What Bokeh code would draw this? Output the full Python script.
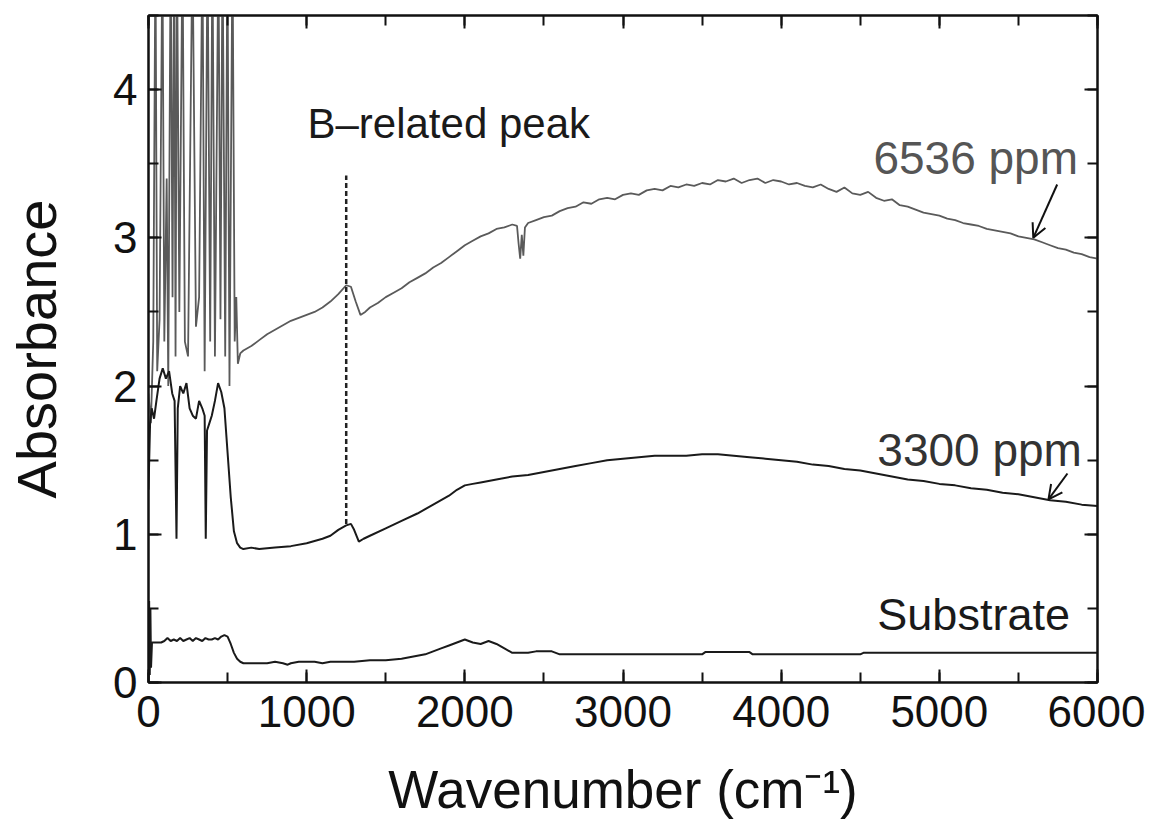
from bokeh.plotting import figure
from bokeh.models import (Range1d, LinearAxis, SingleIntervalTicker, Label, Arrow,
                          OpenHead, CustomJSTickFormatter)
from bokeh.embed import file_html
from bokeh.resources import INLINE

# ---------------- data ----------------
x_ticks_interval = 1000
y_ticks_interval = 1

# Substrate
sub_x = [0, 4, 8, 12, 16, 22, 40, 60, 80, 100,
         120, 140, 160, 180, 200, 220, 240, 260, 280, 300,
         320, 340, 360, 380, 400, 420, 440, 460, 480, 500,
         520, 540, 560, 580, 600, 650, 700, 750, 800, 850,
         880, 900, 950, 1000, 1050, 1100, 1150, 1200, 1250, 1300,
         1400, 1500, 1600, 1650, 1700, 1750, 1800, 1850, 1900, 1950,
         2000, 2050, 2100, 2150, 2200, 2250, 2300, 2350, 2400, 2450,
         2500, 2550, 2600, 2650, 2700, 3000, 3500, 3520, 3800, 3820,
         4000, 4500, 4520, 5000, 5500, 6000]
sub_y = [0.00, 0.55, 0.05, 0.50, 0.10, 0.27, 0.27, 0.27, 0.27, 0.28,
         0.30, 0.28, 0.29, 0.28, 0.30, 0.28, 0.29, 0.30, 0.28, 0.30,
         0.29, 0.28, 0.30, 0.29, 0.29, 0.30, 0.29, 0.31, 0.32, 0.31,
         0.26, 0.20, 0.16, 0.14, 0.13, 0.13, 0.13, 0.13, 0.14, 0.13,
         0.12, 0.13, 0.14, 0.14, 0.14, 0.13, 0.14, 0.14, 0.14, 0.14,
         0.15, 0.15, 0.16, 0.17, 0.18, 0.19, 0.21, 0.23, 0.25, 0.27,
         0.29, 0.27, 0.26, 0.28, 0.26, 0.23, 0.20, 0.20, 0.20, 0.21,
         0.21, 0.21, 0.19, 0.19, 0.19, 0.19, 0.19, 0.205, 0.205, 0.19,
         0.19, 0.19, 0.20, 0.20, 0.20, 0.20]

# 3300 ppm
b33_x = [0, 10, 20, 35, 50, 70, 90, 110, 130, 150,
         165, 177, 185, 200, 220, 240, 260, 280, 300, 320,
         340, 355, 362, 370, 385, 400, 420, 440, 460, 480,
         500, 520, 540, 560, 580, 600, 650, 700, 800, 900,
         1000, 1100, 1150, 1200, 1250, 1280, 1300, 1330, 1360, 1400,
         1500, 1600, 1700, 1800, 1900, 1950, 2000, 2050, 2100, 2200,
         2300, 2400, 2500, 2600, 2700, 2800, 2900, 3000, 3100, 3200,
         3300, 3400, 3500, 3600, 3700, 3800, 3900, 4000, 4100, 4200,
         4300, 4400, 4500, 4600, 4700, 4800, 4900, 5000, 5100, 5200,
         5300, 5400, 5500, 5600, 5700, 5800, 5900, 6000]
b33_y = [1.30, 1.75, 1.85, 1.78, 1.90, 2.05, 2.12, 2.05, 2.10, 1.95,
         1.90, 0.97, 1.85, 2.00, 1.95, 2.02, 1.85, 1.80, 1.78, 1.90,
         1.85, 1.80, 0.97, 1.70, 1.75, 1.80, 1.90, 2.02, 1.96, 1.85,
         1.55, 1.25, 1.02, 0.94, 0.91, 0.90, 0.91, 0.90, 0.91, 0.92,
         0.94, 0.97, 0.99, 1.03, 1.06, 1.07, 1.03, 0.95, 0.97, 0.99,
         1.04, 1.09, 1.14, 1.20, 1.26, 1.30, 1.33, 1.34, 1.35, 1.37,
         1.39, 1.40, 1.42, 1.44, 1.46, 1.48, 1.50, 1.51, 1.52, 1.53,
         1.53, 1.53, 1.54, 1.54, 1.53, 1.52, 1.51, 1.50, 1.49, 1.47,
         1.46, 1.44, 1.43, 1.41, 1.39, 1.37, 1.36, 1.34, 1.33, 1.31,
         1.30, 1.28, 1.27, 1.25, 1.23, 1.22, 1.20, 1.19]

# 6536 ppm
b65_x = [0, 15, 30, 44, 55, 70, 88, 100, 115, 125,
         140, 152, 162, 171, 180, 195, 215, 230, 250, 278,
         300, 320, 341, 355, 373, 390, 404, 420, 442, 455,
         468, 485, 499, 512, 531, 545, 555, 565, 580, 600,
         650, 700, 750, 800, 850, 900, 950, 1000, 1050, 1100,
         1150, 1200, 1250, 1280, 1310, 1340, 1370, 1400, 1450, 1500,
         1550, 1600, 1650, 1700, 1750, 1800, 1850, 1900, 1950, 2000,
         2050, 2100, 2150, 2200, 2250, 2300, 2330, 2340, 2350, 2360,
         2370, 2380, 2400, 2450, 2500, 2550, 2600, 2650, 2700, 2750,
         2800, 2850, 2900, 2950, 3000, 3050, 3100, 3150, 3200, 3250,
         3300, 3350, 3400, 3450, 3500, 3550, 3600, 3650, 3700, 3750,
         3800, 3850, 3900, 3950, 4000, 4050, 4100, 4150, 4200, 4250,
         4300, 4350, 4400, 4450, 4500, 4550, 4600, 4650, 4700, 4750,
         4800, 4850, 4900, 4950, 5000, 5050, 5100, 5150, 5200, 5250,
         5300, 5350, 5400, 5450, 5500, 5550, 5600, 5650, 5700, 5750,
         5800, 5850, 5900, 5950, 6000]
b65_y = [1.95, 1.75, 2.30, 5.00, 2.10, 2.45, 5.00, 2.30, 3.40, 2.00,
         5.00, 2.60, 5.00, 2.20, 5.00, 2.50, 5.00, 2.30, 2.20, 5.00,
         2.40, 2.60, 5.00, 2.10, 5.00, 2.30, 5.00, 2.20, 5.00, 2.45,
         5.00, 2.20, 5.00, 2.00, 5.00, 2.30, 2.60, 2.15, 2.22, 2.24,
         2.27, 2.31, 2.35, 2.38, 2.41, 2.44, 2.46, 2.48, 2.50, 2.53,
         2.57, 2.62, 2.68, 2.67, 2.57, 2.48, 2.50, 2.53, 2.56, 2.60,
         2.63, 2.66, 2.70, 2.73, 2.76, 2.80, 2.83, 2.87, 2.91, 2.95,
         2.98, 3.01, 3.03, 3.06, 3.07, 3.09, 3.08, 2.96, 2.86, 3.02,
         2.88, 3.07, 3.10, 3.12, 3.14, 3.15, 3.18, 3.20, 3.21, 3.24,
         3.23, 3.26, 3.27, 3.26, 3.29, 3.30, 3.29, 3.32, 3.33, 3.32,
         3.35, 3.34, 3.36, 3.35, 3.37, 3.36, 3.39, 3.38, 3.40, 3.37,
         3.39, 3.40, 3.37, 3.39, 3.38, 3.36, 3.37, 3.35, 3.34, 3.36,
         3.33, 3.31, 3.34, 3.30, 3.29, 3.31, 3.27, 3.25, 3.26, 3.22,
         3.21, 3.19, 3.17, 3.16, 3.15, 3.13, 3.12, 3.10, 3.09, 3.08,
         3.06, 3.05, 3.04, 3.03, 3.01, 3.00, 2.99, 2.97, 2.95, 2.93,
         2.92, 2.90, 2.89, 2.87, 2.86]

# B-related peak marker
peak_x = [1250, 1250]
peak_y = [1.07, 3.42]

FONT = "Liberation Sans"

# ---------------- figure ----------------
p = figure(width=1145, height=822,
           x_range=Range1d(0, 6000), y_range=Range1d(0, 4.5),
           output_backend="svg", toolbar_location=None,
           min_border_left=148, min_border_right=48,
           min_border_top=15, min_border_bottom=140)
p.grid.visible = False
p.outline_line_color = "#111111"
p.outline_line_width = 2
p.background_fill_color = "white"
p.border_fill_color = "white"

def style_axis(ax, show_labels=True):
    ax.axis_line_color = "#111111"
    ax.axis_line_width = 2
    ax.major_tick_in = 13
    ax.major_tick_out = 0
    ax.minor_tick_in = 10
    ax.minor_tick_out = 0
    ax.major_tick_line_color = "#111111"
    ax.major_tick_line_width = 2
    ax.minor_tick_line_color = "#111111"
    ax.minor_tick_line_width = 2
    ax.major_label_text_font = FONT
    ax.major_label_text_color = "#111111"
    if show_labels:
        ax.major_label_text_font_size = "44px"
        ax.major_label_standoff = 13
    else:
        ax.formatter = CustomJSTickFormatter(code="return ''")
        ax.major_label_standoff = 0

xt = SingleIntervalTicker(interval=x_ticks_interval, num_minor_ticks=2)
yt = SingleIntervalTicker(interval=y_ticks_interval, num_minor_ticks=2)

p.xaxis[0].ticker = xt
p.yaxis[0].ticker = yt
style_axis(p.xaxis[0])
style_axis(p.yaxis[0])
p.yaxis[0].major_label_standoff = 11

p.xaxis[0].axis_label = "Wavenumber (cm\u207b\u00b9)"
p.xaxis[0].axis_label_text_font = FONT
p.xaxis[0].axis_label_text_font_size = "53px"
p.xaxis[0].axis_label_text_font_style = "normal"
p.xaxis[0].axis_label_text_color = "#111111"
p.xaxis[0].axis_label_standoff = 30

p.yaxis[0].axis_label = "Absorbance"
p.yaxis[0].axis_label_text_font = FONT
p.yaxis[0].axis_label_text_font_size = "56px"
p.yaxis[0].axis_label_text_font_style = "normal"
p.yaxis[0].axis_label_text_color = "#111111"
p.yaxis[0].axis_label_standoff = 42

top_ax = LinearAxis(ticker=SingleIntervalTicker(interval=x_ticks_interval, num_minor_ticks=2))
style_axis(top_ax, show_labels=False)
p.add_layout(top_ax, "above")
right_ax = LinearAxis(ticker=SingleIntervalTicker(interval=y_ticks_interval, num_minor_ticks=2))
style_axis(right_ax, show_labels=False)
p.add_layout(right_ax, "right")

# ---------------- spectra ----------------
p.line(b65_x, b65_y, line_color="#5a5a5a", line_width=1.8)
p.line(b33_x, b33_y, line_color="#1a1a1a", line_width=2)
p.line(sub_x, sub_y, line_color="#1a1a1a", line_width=2)

p.line(peak_x, peak_y, line_color="#222222", line_width=2.5, line_dash="5 3")

# ---------------- annotations ----------------
def add_text(x, y, txt, size, color):
    p.add_layout(Label(x=x, y=y, text=txt, text_font=FONT, text_font_size=size,
                       text_color=color, text_baseline="alphabetic", text_align="left"))

add_text(1005, 3.77, "B\u2013related peak", "42px", "#1a1a1a")
add_text(4583, 3.54, "6536 ppm", "46px", "#555555")
add_text(4608, 1.57, "3300 ppm", "46px", "#333333")
add_text(4608, 0.46, "Substrate", "45px", "#1a1a1a")

p.add_layout(Arrow(end=OpenHead(size=14, line_width=2, line_color="#111111"),
                   x_start=5745, y_start=3.36, x_end=5594, y_end=3.00,
                   line_width=2, line_color="#111111"))
p.add_layout(Arrow(end=OpenHead(size=14, line_width=2, line_color="#111111"),
                   x_start=5810, y_start=1.41, x_end=5690, y_end=1.235,
                   line_width=2, line_color="#111111"))

open("out.html", "w").write(file_html(p, INLINE))
